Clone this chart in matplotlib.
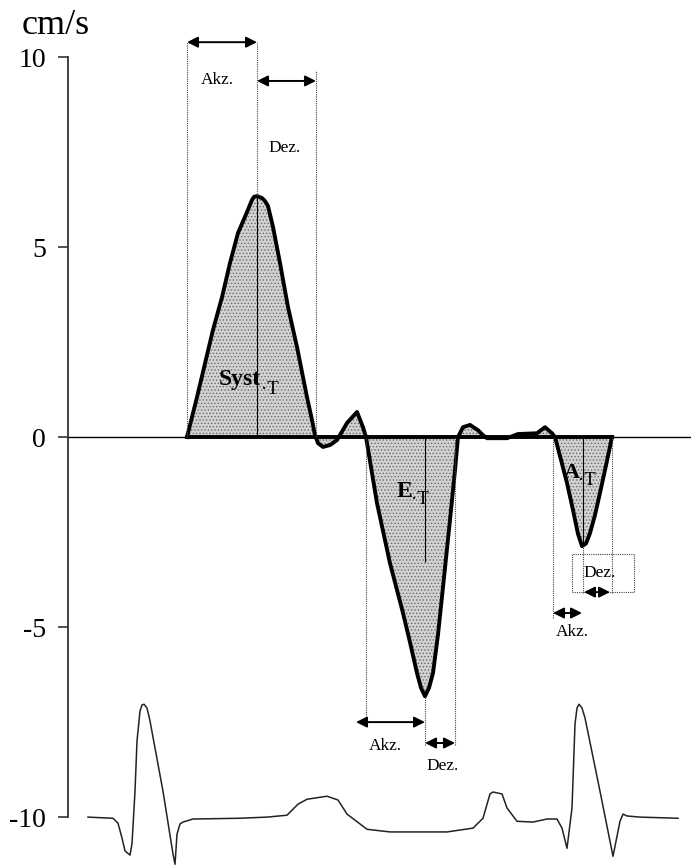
import numpy as np
import matplotlib
matplotlib.use('Agg')
import matplotlib.pyplot as plt
from matplotlib.patches import Rectangle

plt.rcParams['font.family'] = ['Liberation Serif', 'DejaVu Serif']
plt.rcParams['hatch.linewidth'] = 0.6

# Tissue Doppler velocity (cm/s) over time (arbitrary time units)
doppler_t = [187, 197, 213, 222, 230, 238, 247, 252, 254, 257, 259, 262, 265, 268, 273, 280, 288, 297,
             307, 312, 315, 318, 323, 330, 337, 347, 357, 363,
             366, 377, 390, 403, 410, 417, 421, 425, 429, 433, 438, 443, 450, 455, 458,
             463, 470, 478, 483, 487, 507, 518, 537, 545, 552,
             555, 561, 567, 573, 578, 582, 586, 590, 595, 600, 606, 612]
doppler_v = [0.0, 1.05, 2.82, 3.68, 4.58, 5.37, 5.92, 6.24, 6.32, 6.34, 6.32, 6.29, 6.21, 6.08, 5.53, 4.58, 3.42, 2.37,
             1.05, 0.45, 0.05, -0.16, -0.26, -0.21, -0.08, 0.37, 0.66, 0.26,
             0.0, -1.74, -3.32, -4.63, -5.40, -6.21, -6.60, -6.82, -6.60, -6.21, -5.20, -3.95, -2.18, -0.87, 0.0,
             0.26, 0.32, 0.18, 0.05, -0.03, -0.03, 0.08, 0.10, 0.26, 0.10,
             0.0, -0.60, -1.21, -1.92, -2.55, -2.87, -2.80, -2.53, -2.05, -1.47, -0.75, 0.0]

# ECG trace (amplitude relative to its baseline)
ecg_t = [88, 113, 118, 122, 125, 130, 132, 135, 137, 140, 142, 144, 147, 150, 163, 173, 175, 177, 180, 183, 193,
         240, 267, 287, 298, 307, 327, 338, 347, 367, 390, 447, 473, 483,
         490, 493, 502, 507, 517, 533, 547, 557, 562, 567, 572, 575, 577, 579, 582, 585, 600, 613,
         620, 623, 627, 640, 678]
ecg_amp = [0.0, -0.03, -0.16, -0.55, -0.89, -1.0, -0.70, 0.68, 2.0, 2.79, 2.95, 2.97, 2.87, 2.53, 0.68, -0.97, -1.24, -0.45, -0.18, -0.13, -0.05,
           -0.03, 0.0, 0.05, 0.34, 0.47, 0.55, 0.45, 0.08, -0.32, -0.39, -0.39, -0.29, -0.03,
           0.61, 0.66, 0.61, 0.24, -0.11, -0.13, -0.05, -0.05, -0.29, -0.82, 0.24, 2.45, 2.87, 2.97, 2.87, 2.61, 0.68, -1.03,
           -0.11, 0.08, 0.03, 0.0, -0.03]
ecg_base = -10

# event times: start, peak, end of each wave
syst = (187, 257, 316)
e_wave = (366, 425, 455)
a_wave = (553, 583, 612)

yticks = [10, 5, 0, -5, -10]
ytick_labels = ['10', '5', '0', '-5', '-10']

fig = plt.figure(figsize=(6.91, 8.65), dpi=100)
ax = fig.add_axes([0, 0, 1, 1])
ax.set_xlim(0, 691)
ax.set_ylim(-11.26, 11.5)

for s in ['top', 'right', 'bottom']:
    ax.spines[s].set_visible(False)
ax.spines['left'].set_position(('data', 68))
ax.spines['left'].set_bounds(-10, 10)
ax.spines['left'].set_color('#333333')
ax.spines['left'].set_linewidth(1.3)
ax.set_xticks([])
ax.set_yticks(yticks, labels=ytick_labels)
ax.tick_params(axis='y', length=7, width=1.2, color='#333333', pad=9, labelsize=20)

ax.text(22, 10.84, 'cm/s', fontsize=26, ha='left', va='center')

# zero line
ax.axhline(0, xmin=68 / 691, color='k', lw=1.0)

t = np.array(doppler_t)
v = np.array(doppler_v)
ax.fill_between(t, v, 0, facecolor='#d2d2d2', hatch='.....', edgecolor='#6a6a6a', linewidth=0)
ax.plot(t, v, color='k', lw=2.8, solid_joinstyle='round')
ax.plot([t[0], t[-1]], [0, 0], color='k', lw=2.8)

vmin = dict(zip(doppler_t, doppler_v))
dot = dict(color='#444444', lw=0.8, linestyle=(0, (1, 1)))

# systolic guides
ax.vlines(syst[0], 0, 10.39, **dot)
ax.vlines(syst[1], vmin[syst[1]], 10.39, **dot)
ax.vlines(syst[1], 0, vmin[syst[1]], color='k', lw=0.8)
ax.vlines(syst[2], 0, 9.66, **dot)

# E wave guides
ax.vlines(e_wave[0], -7.6, 0, **dot)
ax.vlines(e_wave[1], 0, -3.3, color='k', lw=0.8)
ax.vlines(e_wave[1], -8.1, vmin[e_wave[1]], **dot)
ax.vlines(e_wave[2], -8.1, 0, **dot)

# A wave guides
ax.vlines(a_wave[0], -4.75, 0, **dot)
ax.vlines(a_wave[1], -2.87, 0, color='k', lw=0.8)
ax.vlines(a_wave[1], -4.1, -2.87, **dot)
ax.vlines(a_wave[2], -4.1, 0, **dot)
ax.add_patch(Rectangle((572, -4.08), 62, 1.0, fill=False, edgecolor='#444444',
                       lw=0.8, linestyle=(0, (1, 1))))


def arrow(x0, x1, y):
    ax.annotate('', xy=(x1, y), xytext=(x0, y),
                arrowprops=dict(arrowstyle='<|-|>', color='k', lw=1.4,
                                mutation_scale=16, shrinkA=0, shrinkB=0))


arrow(syst[0], syst[1], 10.39)
arrow(syst[1], syst[2], 9.37)
arrow(356, e_wave[1], -7.5)
arrow(e_wave[1], e_wave[2], -8.05)
arrow(a_wave[0], a_wave[1] - 1, -4.63)
arrow(a_wave[1] + 1, a_wave[2] - 2, -4.08)

small = 12.5
ax.text(217, 9.39, 'Akz.', fontsize=small, ha='center', va='center')
ax.text(285, 7.6, 'Dez.', fontsize=small, ha='center', va='center')
ax.text(385, -8.13, 'Akz.', fontsize=small, ha='center', va='center')
ax.text(443, -8.66, 'Dez.', fontsize=small, ha='center', va='center')
ax.text(572, -5.13, 'Akz.', fontsize=small, ha='center', va='center')
ax.text(600, -3.58, 'Dez.', fontsize=small, ha='center', va='center')

# wave labels
ax.text(219, 1.37, 'Syst', fontsize=17, fontweight='bold', ha='left', va='baseline')
ax.text(261, 1.12, '·T', fontsize=13.5, ha='left', va='baseline')
ax.text(397, -1.58, 'E', fontsize=17, fontweight='bold', ha='left', va='baseline')
ax.text(411, -1.76, '·T', fontsize=13.5, ha='left', va='baseline')
ax.text(564, -1.08, 'A', fontsize=16, fontweight='bold', ha='left', va='baseline')
ax.text(578, -1.26, '·T', fontsize=13.5, ha='left', va='baseline')

# ECG
ax.plot(ecg_t, ecg_base + np.array(ecg_amp), color='#222222', lw=1.1)

fig.savefig('out.png', dpi=100)
